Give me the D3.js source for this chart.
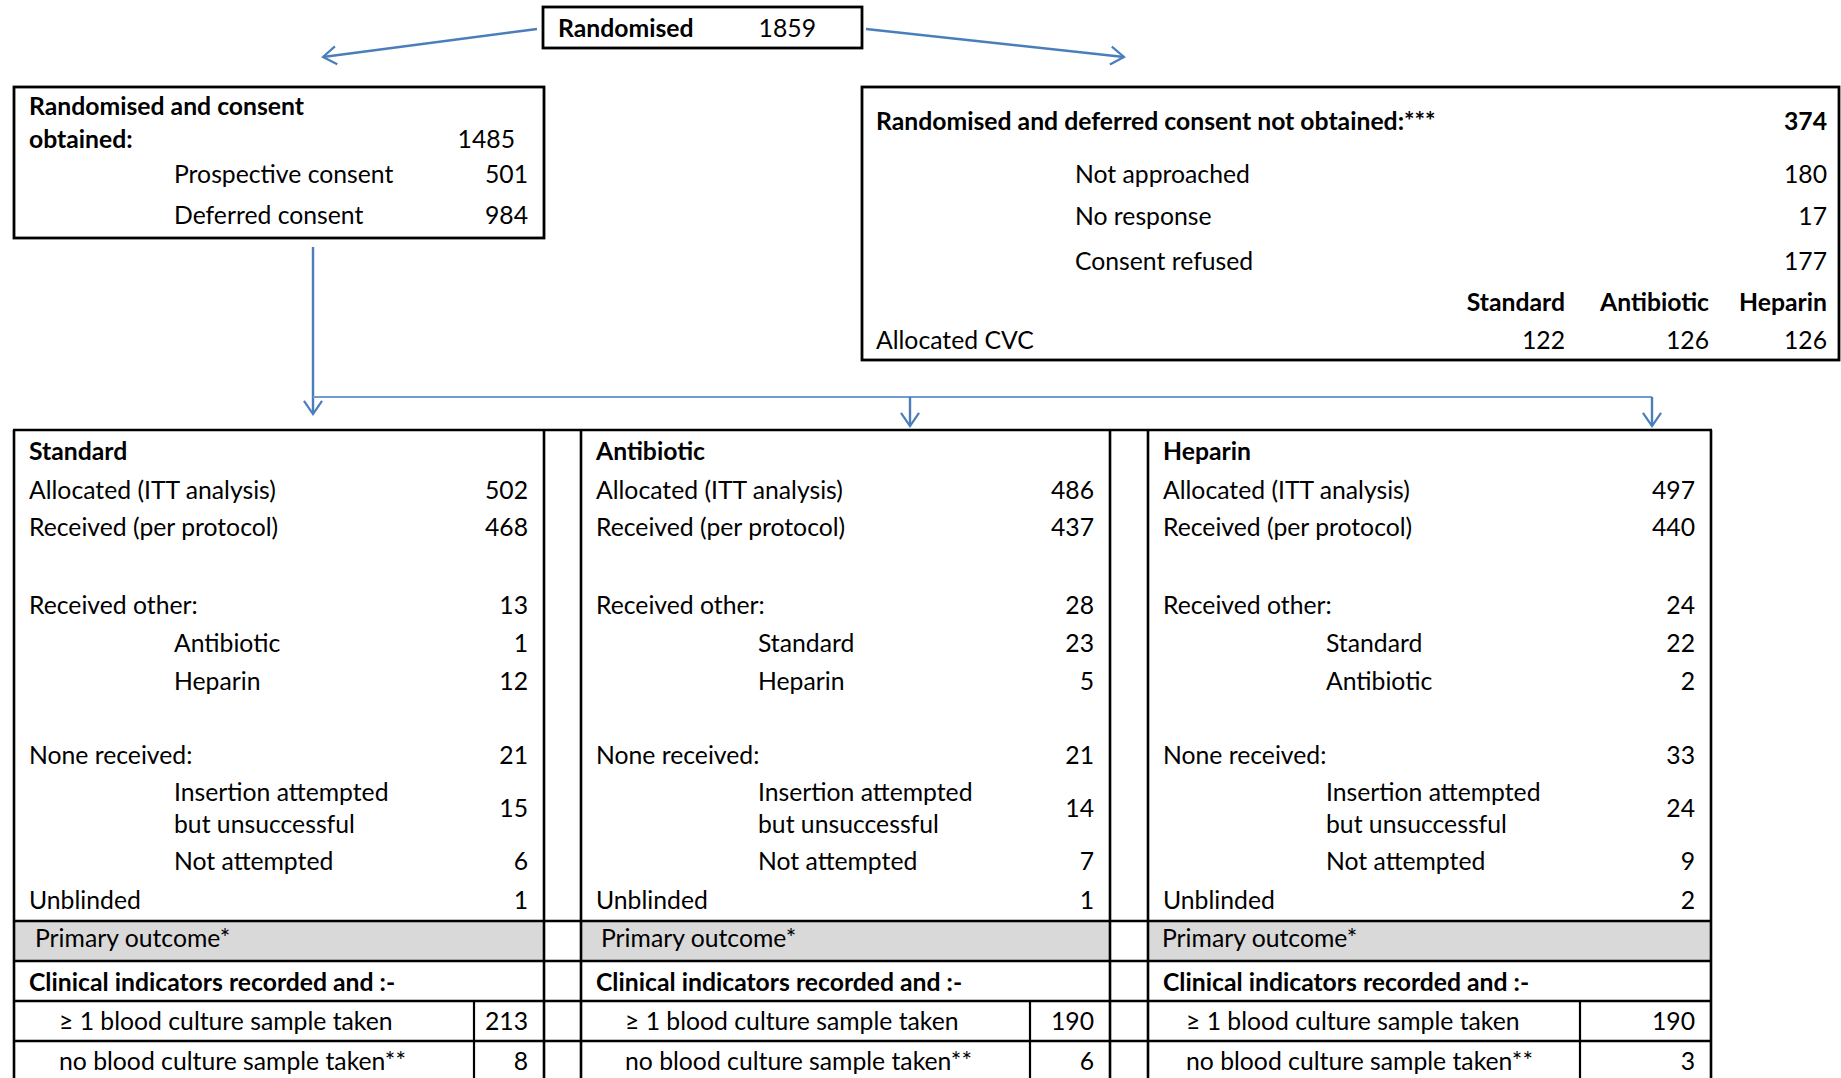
<!DOCTYPE html>
<html><head><meta charset="utf-8">
<script src="https://cdn.jsdelivr.net/npm/d3@7"></script>
<style>html,body{margin:0;padding:0;background:#fff;overflow:hidden}</style>
</head><body>
<svg id="c" width="1841" height="1078"></svg>
<script>
// ---------------- DATA ----------------
const arms = ["Standard", "Antibiotic", "Heparin"];
const randomised = 1859;
const consentObtained = 1485;
const prospectiveConsent = 501;
const deferredConsent = 984;
const consentNotObtained = 374;
const notObtainedLabels = ["Not approached", "No response", "Consent refused"];
const notObtainedValues = [180, 17, 177];
const allocatedCVC = [122, 126, 126];
const allocatedITT = [502, 486, 497];
const receivedPP = [468, 437, 440];
const receivedOther = [13, 28, 24];
const receivedOtherLabels = [["Antibiotic", "Heparin"], ["Standard", "Heparin"], ["Standard", "Antibiotic"]];
const receivedOtherValues = [[1, 12], [23, 5], [22, 2]];
const noneReceived = [21, 21, 33];
const insertionUnsuccessful = [15, 14, 24];
const notAttempted = [6, 7, 9];
const unblinded = [1, 1, 2];
const bloodCultureTaken = [213, 190, 190];
const noBloodCulture = [8, 6, 3];

// ---------------- LAYOUT ----------------
const W = 1841, H = 1078;
const svg = d3.select("#c");
svg.append("rect").attr("width", W).attr("height", H).attr("fill", "#fff");
const FONT = "Lato, 'Open Sans', sans-serif";
const BLUE = "#4a7ebb";

// calibrate font size so text widths match the reference (Calibri 20pt)
const probe = svg.append("text").style("font-family", FONT).style("font-size", "100px").text("Allocated (ITT analysis)");
const FS = 100 * 247 / probe.node().getComputedTextLength();
probe.remove();

function txt(x, y, s, opt = {}) {
  return svg.append("text")
    .attr("x", x).attr("y", y)
    .attr("dy", "0.36em")
    .attr("text-anchor", opt.anchor || "start")
    .style("font-family", FONT)
    .style("font-size", FS + "px")
    .style("font-weight", opt.bold ? 700 : 400)
    .attr("fill", "#000")
    .text(s);
}
function box(x0, y0, x1, y1, sw) {
  svg.append("rect").attr("x", x0).attr("y", y0).attr("width", x1 - x0).attr("height", y1 - y0)
    .attr("fill", "none").attr("stroke", "#000").attr("stroke-width", sw);
}
function line(x0, y0, x1, y1, color, sw) {
  svg.append("line").attr("x1", x0).attr("y1", y0).attr("x2", x1).attr("y2", y1)
    .attr("stroke", color).attr("stroke-width", sw).attr("stroke-linecap", "butt");
}
function arrowHead(x0, y0, x1, y1) {
  const a = Math.atan2(y1 - y0, x1 - x0), L = 16, sp = 0.6;
  const p1 = [x1 - L * Math.cos(a - sp), y1 - L * Math.sin(a - sp)];
  const p2 = [x1 - L * Math.cos(a + sp), y1 - L * Math.sin(a + sp)];
  svg.append("path").attr("d", d3.line()([p1, [x1, y1], p2]))
    .attr("fill", "none").attr("stroke", BLUE).attr("stroke-width", 2.2);
}
function arrow(x0, y0, x1, y1) { line(x0, y0, x1, y1, BLUE, 2.4); arrowHead(x0, y0, x1, y1); }

// ---- Top: randomised ----
box(543, 7, 862, 48, 2.8);
txt(558, 28, "Randomised", { bold: true });
txt(816, 28, String(randomised), { anchor: "end" });
arrow(537, 29, 323, 57);
arrow(866, 29, 1124, 57);

// ---- Left: consent obtained ----
box(14, 87, 544, 238, 2.8);
txt(29, 106, "Randomised and consent", { bold: true });
txt(29, 139, "obtained:", { bold: true });
txt(515, 139, String(consentObtained), { anchor: "end" });
txt(174, 174, "Prospective consent");
txt(528, 174, String(prospectiveConsent), { anchor: "end" });
txt(174, 215, "Deferred consent");
txt(528, 215, String(deferredConsent), { anchor: "end" });

// ---- Right: consent not obtained ----
box(862, 87, 1839, 360, 2.8);
txt(876, 121, "Randomised and deferred consent not obtained:***", { bold: true });
txt(1827, 121, String(consentNotObtained), { anchor: "end", bold: true });
const yNot = d3.scaleOrdinal(notObtainedLabels, [174, 216, 261]);
notObtainedLabels.forEach((l, i) => {
  txt(1075, yNot(l), l);
  txt(1827, yNot(l), String(notObtainedValues[i]), { anchor: "end" });
});
const xCVC = d3.scaleOrdinal(arms, [1565, 1709, 1827]);
arms.forEach((a, i) => {
  txt(xCVC(a), 302, a, { anchor: "end", bold: true });
  txt(xCVC(a), 340, String(allocatedCVC[i]), { anchor: "end" });
});
txt(876, 340, "Allocated CVC");

// ---- Connectors ----
const colLeft = d3.scaleOrdinal(arms, [14, 581, 1148]);
const colRight = d3.scaleOrdinal(arms, [544, 1110, 1711]);
const colInner = d3.scaleOrdinal(arms, [474, 1030, 1580]);
const colIndent = d3.scaleOrdinal(arms, [160, 177, 178]);
const colPrim = d3.scaleOrdinal(arms, [21, 20, 14]);
const colBlood = d3.scaleOrdinal(arms, [45, 44, 38]);

line(313, 247, 313, 414, BLUE, 2.4); arrowHead(313, 247, 313, 414);
line(313, 397, 1652, 397, "#6f9bd0", 2.2);
arrow(910, 397, 910, 426);
arrow(1652, 397, 1652, 426);

// ---- Table ----
const rowKeys = ["title", "alloc", "recv", "other", "o1", "o2", "none", "ins1", "ins2", "insv", "notatt", "unbl", "prim", "clin", "bc1", "bc0"];
const yRow = d3.scaleOrdinal(rowKeys, [451, 490, 527, 605, 643, 681, 755, 792, 824, 808, 861, 900, 938, 982, 1021, 1061]);
const tTop = 430, tLines = [921, 961, 1001, 1041, 1081];

arms.forEach(a => {
  svg.append("rect").attr("x", colLeft(a)).attr("y", 921).attr("width", colRight(a) - colLeft(a)).attr("height", 40).attr("fill", "#d9d9d9");
});
line(13, tTop, 1712, tTop, "#000", 2.6);
tLines.forEach(y => line(13, y, 1712, y, "#000", 2.4));
arms.forEach(a => {
  line(colLeft(a), tTop, colLeft(a), H, "#000", 2.6);
  line(colRight(a), tTop, colRight(a), H, "#000", 2.6);
  line(colInner(a), 1001, colInner(a), H, "#000", 2.2);
});

arms.forEach((a, i) => {
  const L = colLeft(a) + 15, R = colRight(a) - 16, I = colLeft(a) + colIndent(a);
  txt(L, yRow("title"), a, { bold: true });
  txt(L, yRow("alloc"), "Allocated (ITT analysis)"); txt(R, yRow("alloc"), String(allocatedITT[i]), { anchor: "end" });
  txt(L, yRow("recv"), "Received (per protocol)"); txt(R, yRow("recv"), String(receivedPP[i]), { anchor: "end" });
  txt(L, yRow("other"), "Received other:"); txt(R, yRow("other"), String(receivedOther[i]), { anchor: "end" });
  txt(I, yRow("o1"), receivedOtherLabels[i][0]); txt(R, yRow("o1"), String(receivedOtherValues[i][0]), { anchor: "end" });
  txt(I, yRow("o2"), receivedOtherLabels[i][1]); txt(R, yRow("o2"), String(receivedOtherValues[i][1]), { anchor: "end" });
  txt(L, yRow("none"), "None received:"); txt(R, yRow("none"), String(noneReceived[i]), { anchor: "end" });
  txt(I, yRow("ins1"), "Insertion attempted");
  txt(I, yRow("ins2"), "but unsuccessful");
  txt(R, yRow("insv"), String(insertionUnsuccessful[i]), { anchor: "end" });
  txt(I, yRow("notatt"), "Not attempted"); txt(R, yRow("notatt"), String(notAttempted[i]), { anchor: "end" });
  txt(L, yRow("unbl"), "Unblinded"); txt(R, yRow("unbl"), String(unblinded[i]), { anchor: "end" });
  txt(colLeft(a) + colPrim(a), yRow("prim"), "Primary outcome*");
  txt(L, yRow("clin"), "Clinical indicators recorded and :-", { bold: true });
  txt(colLeft(a) + colBlood(a), yRow("bc1"), "\u2265 1 blood culture sample taken"); txt(R, yRow("bc1"), String(bloodCultureTaken[i]), { anchor: "end" });
  txt(colLeft(a) + colBlood(a), yRow("bc0"), "no blood culture sample taken**"); txt(R, yRow("bc0"), String(noBloodCulture[i]), { anchor: "end" });
});
</script>
</body></html>
